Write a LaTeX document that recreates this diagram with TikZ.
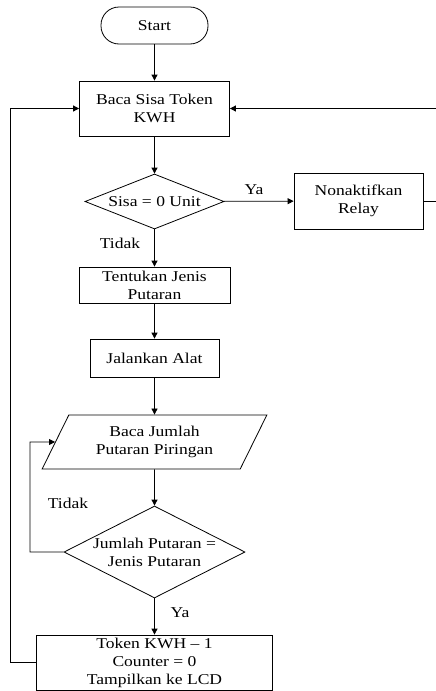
\documentclass[tikz,border=0pt]{standalone}
\usepackage{fontspec}
\setmainfont{Liberation Serif}[FakeStretch=1.17]
\usetikzlibrary{shapes.geometric,arrows.meta}

\begin{document}
\begin{tikzpicture}[x=1pt,y=-1pt,line width=0.8pt,
  >={Triangle[length=6pt,width=6pt]},
  every node/.style={font=\fontsize{15}{18}\selectfont},
  terminal/.style={draw,rectangle,rounded corners=18pt,inner sep=0pt},
  proses/.style={draw,rectangle,align=center,inner sep=0pt},
  keputusan/.style={draw,diamond,inner sep=0pt},
  masukan/.style={draw,trapezium,trapezium left angle=60,trapezium right angle=120,
    trapezium stretches=true,align=center,inner sep=0pt}]
\useasboundingbox (0,0) rectangle (436,691);
\node[terminal,minimum width=107pt,minimum height=37pt] (start) at (154.5,25.5) {Start};
\node[proses,minimum width=150pt,minimum height=55pt] (baca) at (154.5,108.5) {Baca Sisa Token\\KWH};
\node[keputusan,minimum width=139pt,minimum height=55pt] (sisa) at (154.5,201.5) {};
\node at (sisa) {Sisa = 0 Unit};
\node[proses,minimum width=129pt,minimum height=56pt] (nonaktif) at (358.5,201) {Nonaktifkan\\Relay};
\node[proses,minimum width=151pt,minimum height=36pt] (tentukan) at (154.5,285) {Tentukan Jenis\\Putaran};
\node[proses,minimum width=129pt,minimum height=38pt] (jalan) at (154.5,358) {Jalankan Alat};
\node[masukan,minimum width=225pt,minimum height=54pt] (bacajml) at (154.5,442) {Baca Jumlah\\Putaran Piringan};
\node[keputusan,minimum width=181pt,minimum height=92pt] (cek) at (154.5,552) {};
\node[align=center] at (cek) {Jumlah Putaran =\\Jenis Putaran};
\node[proses,minimum width=236pt,minimum height=55pt] (token) at (154.5,662.5) {Token KWH -- 1\\Counter = 0\\Tampilkan ke LCD};
\foreach \a/\b in {start/baca,baca/sisa,sisa/tentukan,tentukan/jalan,jalan/bacajml,bacajml/cek,cek/token}
    \draw[->] (\a) -- (\b);
\draw[->] (sisa) -- (nonaktif);
\draw[->] (nonaktif.east) -- (440,201) -- (440,108.5) -- (baca.east);
\draw[->] (cek.west) -- (30,552) -- (30,442) -- (bacajml.west);
\draw[->] (token.west) -- (10,662.5) -- (10,108.5) -- (baca.west);
\node (ya1) at (254,190) {Ya};
\node (tidak1) at (120,243.5) {Tidak};
\node (tidak2) at (68,503) {Tidak};
\node (ya2) at (180,613) {Ya};
\end{tikzpicture}
\end{document}
